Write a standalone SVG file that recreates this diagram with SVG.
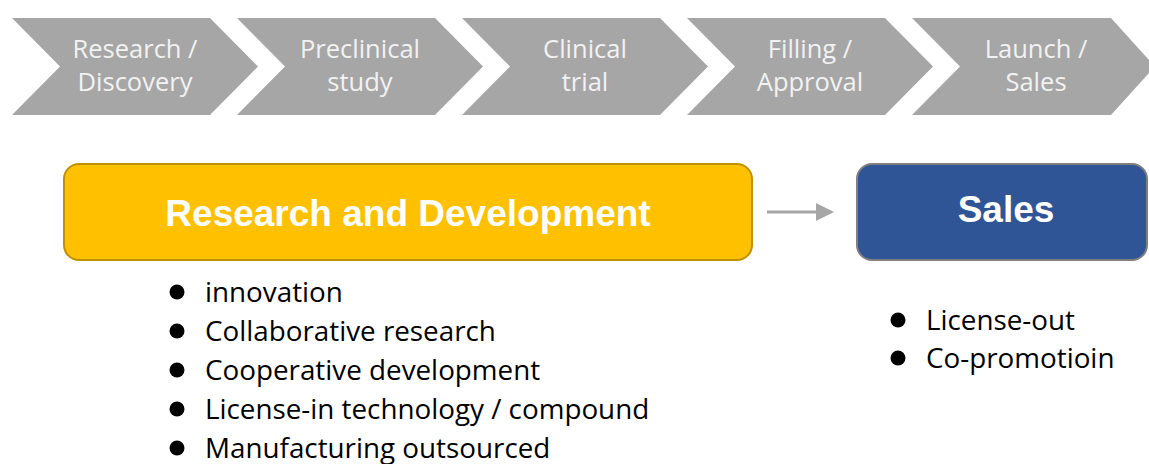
<svg xmlns="http://www.w3.org/2000/svg" width="1149" height="464" viewBox="0 0 1149 464">
<style>
.chev{fill:#a6a6a6}
.ct{font-family:"Open Sans","Liberation Sans",sans-serif;font-size:25.5px;fill:#f2f2f2;text-anchor:middle}
.bt{font-family:"Liberation Sans",Arial,sans-serif;font-weight:bold;font-size:37px;fill:#ffffff;text-anchor:middle}
.li{font-family:"Open Sans","Liberation Sans",sans-serif;font-size:27.8px;fill:#000000}
.dot{fill:#000000}
</style>
<defs>
<marker id="ah" markerWidth="6" markerHeight="6" refX="5" refY="3" orient="auto" markerUnits="strokeWidth">
<path d="M0,0 L6,3 L0,6 Z" fill="#a6a6a6"/>
</marker>
</defs>
<rect width="1149" height="464" fill="#ffffff"/>
<g id="step1"><path class="chev" d="M12,18 H210 L258,66.5 L210,115 H12 L60,66.5 Z"/><text class="ct" x="135" y="58">Research /</text><text class="ct" x="135" y="91">Discovery</text></g>
<g id="step2"><path class="chev" d="M237,18 H435 L483,66.5 L435,115 H237 L285,66.5 Z"/><text class="ct" x="360" y="58">Preclinical</text><text class="ct" x="360" y="91">study</text></g>
<g id="step3"><path class="chev" d="M462,18 H660 L708,66.5 L660,115 H462 L510,66.5 Z"/><text class="ct" x="585" y="58">Clinical</text><text class="ct" x="585" y="91">trial</text></g>
<g id="step4"><path class="chev" d="M687,18 H885 L933,66.5 L885,115 H687 L735,66.5 Z"/><text class="ct" x="810" y="58">Filling /</text><text class="ct" x="810" y="91">Approval</text></g>
<g id="step5"><path class="chev" d="M912,18 H1111 L1155,66.5 L1111,115 H912 L960,66.5 Z"/><text class="ct" x="1036" y="58">Launch /</text><text class="ct" x="1036" y="91">Sales</text></g>
<g id="rnd"><rect x="64" y="164" width="688" height="96" rx="15" fill="#ffc000" stroke="#bf9000" stroke-width="2"/><text class="bt" x="408" y="226">Research and Development</text></g>
<g id="sales"><rect x="857" y="164" width="290" height="96" rx="15" fill="#2f5597" stroke="#7f7f7f" stroke-width="2"/><text class="bt" x="1006" y="222">Sales</text></g>
<g id="connectors"><line x1="767" y1="212" x2="831" y2="212" stroke="#a6a6a6" stroke-width="3" marker-end="url(#ah)"/></g>
<g id="rnd-list">
<circle class="dot" cx="177" cy="292" r="7.5"/><text class="li" x="205" y="302">innovation</text>
<circle class="dot" cx="177" cy="331" r="7.5"/><text class="li" x="205" y="341">Collaborative research</text>
<circle class="dot" cx="177" cy="370" r="7.5"/><text class="li" x="205" y="380">Cooperative development</text>
<circle class="dot" cx="177" cy="409" r="7.5"/><text class="li" x="205" y="419">License-in technology / compound</text>
<circle class="dot" cx="177" cy="448" r="7.5"/><text class="li" x="205" y="458">Manufacturing outsourced</text>
</g>
<g id="sales-list">
<circle class="dot" cx="898" cy="320" r="7.5"/><text class="li" x="926" y="330">License-out</text>
<circle class="dot" cx="898" cy="358" r="7.5"/><text class="li" x="926" y="368">Co-promotioin</text>
</g>
</svg>
